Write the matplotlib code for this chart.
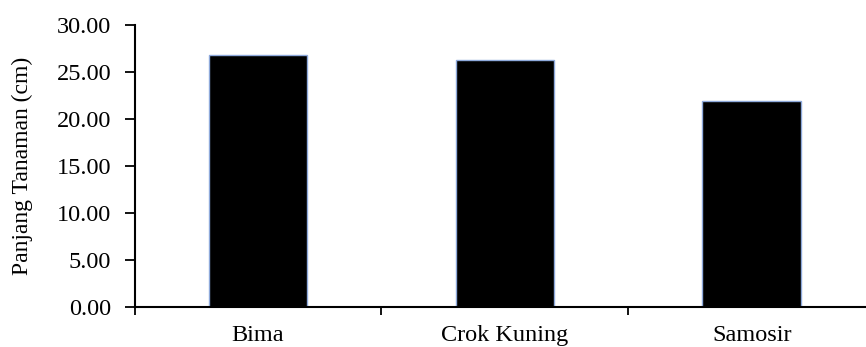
import numpy as np
import matplotlib.pyplot as plt
from matplotlib.ticker import FixedLocator, FormatStrFormatter

# data
varietas = ['Bima', 'Crok Kuning', 'Samosir']
panjang = [26.8, 26.2, 21.9]

plt.rcParams['font.family'] = ['Liberation Serif', 'DejaVu Serif']

fig = plt.figure(figsize=(8.66, 3.47), dpi=100)
ax = fig.add_axes([0.1555, 0.116, 0.855, 0.813])

x = np.arange(len(varietas))
ax.bar(x, panjang, width=0.4, color='black', edgecolor='#8ea9db', linewidth=1.0)

ax.set_xlim(-0.5, len(varietas) - 0.5)
ax.set_ylim(0, 30)
ax.set_yticks(np.arange(0, 31, 5))
ax.yaxis.set_major_formatter(FormatStrFormatter('%.2f'))

ax.set_xticks(x)
ax.set_xticklabels(varietas)
ax.xaxis.set_minor_locator(FixedLocator(np.arange(-0.5, len(varietas), 1)))
ax.tick_params(axis='x', which='major', length=0, pad=13, labelsize=17.5)
ax.tick_params(axis='x', which='minor', length=6, width=1.3, direction='out')
ax.tick_params(axis='y', length=7, width=1.3, direction='out', pad=10, labelsize=17.5)

ax.set_ylabel('Panjang Tanaman (cm)', fontsize=17, labelpad=17)

for s in ['top', 'right']:
    ax.spines[s].set_visible(False)
for s in ['left', 'bottom']:
    ax.spines[s].set_linewidth(1.5)

fig.savefig('out.png', dpi=100)
